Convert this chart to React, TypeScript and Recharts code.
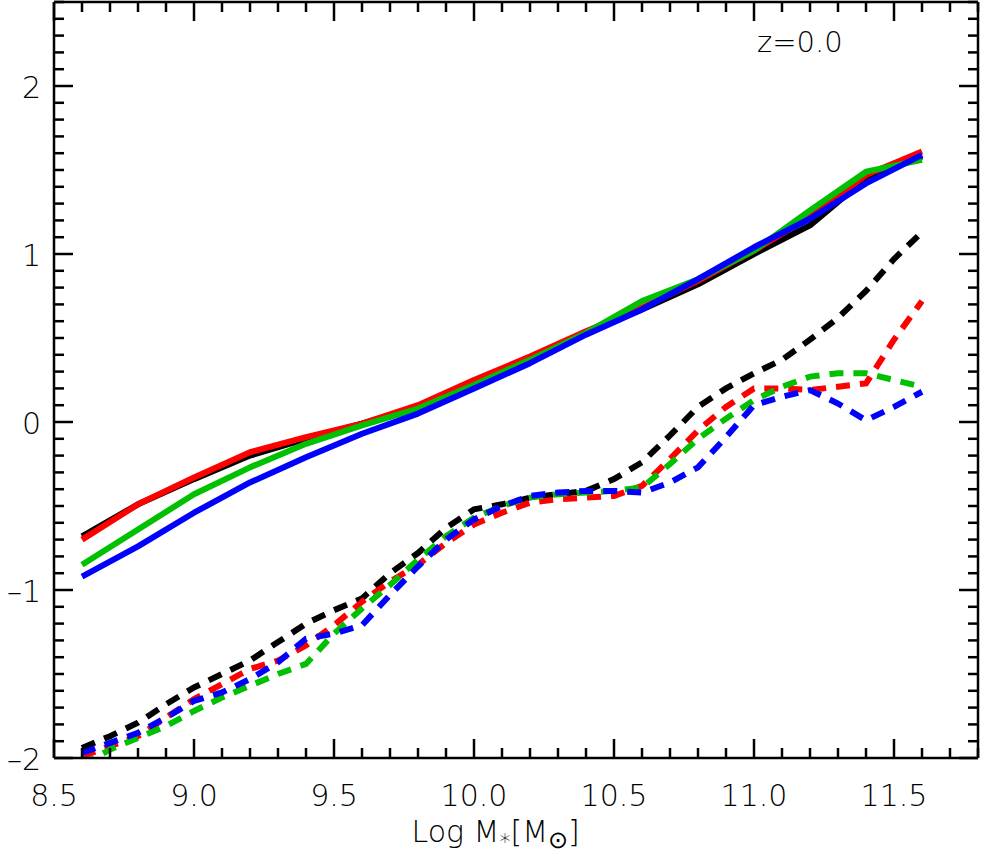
import React from 'react';
import { LineChart, Line, XAxis, YAxis, ReferenceDot } from 'recharts';

// ---- data ----
const solidMass = [8.6, 8.8, 9.0, 9.2, 9.4, 9.6, 9.8, 10.0, 10.2, 10.4, 10.6, 10.8, 11.0, 11.2, 11.4, 11.6];
const solidBlack = [-0.68, -0.49, -0.34, -0.20, -0.10, -0.01, 0.09, 0.24, 0.38, 0.53, 0.67, 0.82, 1.00, 1.17, 1.45, 1.58];
const solidRed = [-0.70, -0.49, -0.33, -0.18, -0.09, -0.01, 0.10, 0.25, 0.39, 0.54, 0.68, 0.84, 1.02, 1.22, 1.47, 1.61];
const solidGreen = [-0.85, -0.64, -0.43, -0.27, -0.13, -0.02, 0.08, 0.22, 0.37, 0.53, 0.72, 0.85, 1.02, 1.26, 1.49, 1.56];
const solidBlue = [-0.92, -0.74, -0.54, -0.36, -0.21, -0.07, 0.05, 0.20, 0.35, 0.52, 0.67, 0.85, 1.04, 1.21, 1.42, 1.59];

const dashMass = [8.6, 8.7, 8.8, 8.9, 9.0, 9.1, 9.2, 9.3, 9.4, 9.5, 9.6, 9.7, 9.8, 9.9, 10.0, 10.1, 10.2, 10.3, 10.4, 10.5, 10.6, 10.7, 10.8, 10.9, 11.0, 11.1, 11.2, 11.3, 11.4, 11.5, 11.6];
const dashBlack = [-1.94, -1.87, -1.79, -1.68, -1.58, -1.50, -1.42, -1.31, -1.20, -1.12, -1.05, -0.90, -0.78, -0.63, -0.52, -0.49, -0.45, -0.43, -0.41, -0.34, -0.24, -0.08, 0.09, 0.20, 0.29, 0.37, 0.49, 0.62, 0.78, 0.97, 1.13];
const dashRed = [-1.99, -1.93, -1.87, -1.76, -1.65, -1.56, -1.47, -1.42, -1.33, -1.21, -1.07, -0.95, -0.85, -0.72, -0.61, -0.54, -0.48, -0.46, -0.45, -0.44, -0.38, -0.22, -0.05, 0.09, 0.20, 0.20, 0.19, 0.21, 0.23, 0.49, 0.72];
const dashGreen = [-2.04, -1.95, -1.88, -1.81, -1.72, -1.64, -1.57, -1.50, -1.44, -1.26, -1.11, -0.97, -0.82, -0.68, -0.57, -0.50, -0.45, -0.43, -0.42, -0.41, -0.39, -0.25, -0.10, 0.02, 0.13, 0.21, 0.27, 0.29, 0.29, 0.25, 0.21];
const dashBlue = [-1.97, -1.91, -1.85, -1.76, -1.66, -1.61, -1.53, -1.43, -1.29, -1.26, -1.21, -1.03, -0.86, -0.70, -0.58, -0.50, -0.44, -0.42, -0.41, -0.41, -0.42, -0.36, -0.27, -0.09, 0.10, 0.15, 0.19, 0.11, 0.01, 0.09, 0.18];

// ---- axes ----
const xDomain = [8.5, 11.8];
const yDomain = [-2, 2.5];
const xMajorTicks = [8.5, 9.0, 9.5, 10.0, 10.5, 11.0, 11.5];
const yMajorTicks = [-2, -1, 0, 1, 2];
const xMinorTicks = Array.from({ length: 34 }, (_, i) => (85 + i) / 10);
const yMinorTicks = Array.from({ length: 46 }, (_, i) => (i - 20) / 10);
const xTitle = 'Log M';
const redshiftLabel = 'z=0.0';
const redshiftPos = { x: 11.164, y: 2.262 };

const solidData = solidMass.map((m, i) => ({ m, black: solidBlack[i], red: solidRed[i], green: solidGreen[i], blue: solidBlue[i] }));
const dashData = dashMass.map((m, i) => ({ m, black: dashBlack[i], red: dashRed[i], green: dashGreen[i], blue: dashBlue[i] }));

const FONT = "'DejaVu Sans', sans-serif";
const FW = 200;
const MAJOR = 19;
const MINOR = 10;
const TW = 2.5;

const near = (a: number, b: number) => Math.abs(a - b) < 1e-6;
const isXMajor = (v: number) => xMajorTicks.some((t) => near(t, v));
const isYMajor = (v: number) => yMajorTicks.some((t) => near(t, v));
const fmtY = (v: number) => (v < 0 ? '\u2013' + Math.abs(v) : String(v));

const BottomTick = (p: any) => {
  const v = p.payload.value;
  const major = isXMajor(v);
  return (
    <g>
      <line x1={p.x} x2={p.x} y1={p.y} y2={p.y - (major ? MAJOR : MINOR)} stroke="#000" strokeWidth={TW} />
      {major && (
        <text x={p.x} y={p.y + 48} textAnchor="middle" fontSize={30} fontFamily={FONT} fontWeight={FW} fill="#000">
          {v.toFixed(1)}
        </text>
      )}
    </g>
  );
};
const TopTick = (p: any) => {
  const major = isXMajor(p.payload.value);
  return <line x1={p.x} x2={p.x} y1={p.y} y2={p.y + (major ? MAJOR : MINOR)} stroke="#000" strokeWidth={TW} />;
};
const LeftTick = (p: any) => {
  const v = p.payload.value;
  const major = isYMajor(v);
  return (
    <g>
      <line x1={p.x} x2={p.x + (major ? MAJOR : MINOR)} y1={p.y} y2={p.y} stroke="#000" strokeWidth={TW} />
      {major && (
        <text x={p.x - 13} y={p.y + 12} textAnchor="end" fontSize={30} fontFamily={FONT} fontWeight={FW} fill="#000">
          {fmtY(Math.round(v))}
        </text>
      )}
    </g>
  );
};
const RightTick = (p: any) => {
  const major = isYMajor(p.payload.value);
  return <line x1={p.x} x2={p.x - (major ? MAJOR : MINOR)} y1={p.y} y2={p.y} stroke="#000" strokeWidth={TW} />;
};

const XTitle = (p: any) => {
  const vb = p.viewBox || { x: 54, y: 758, width: 924, height: 98 };
  return (
    <text x={vb.x + vb.width * 0.478} y={vb.y + 84} textAnchor="middle" fontSize={30} fontFamily={FONT} fontWeight={FW} fill="#000">
      {xTitle}
      <tspan fontSize={22} dy={7}>*</tspan>
      <tspan dy={-7}>[M</tspan>
      <tspan fontSize={24} dy={6}>{'\u2299'}</tspan>
      <tspan dy={-6}>]</tspan>
    </text>
  );
};

const axisLine = { stroke: '#000', strokeWidth: TW };

export default function App() {
  return (
    <div style={{ position: 'absolute', left: 0, top: 0, background: '#fff' }}>
      <LineChart width={981} height={856} margin={{ top: 1, right: 2, left: 0, bottom: 0 }}>
        <XAxis
          xAxisId="bottom"
          type="number"
          dataKey="m"
          domain={xDomain}
          allowDataOverflow
          ticks={xMinorTicks}
          interval={0}
          tickSize={0}
          tickMargin={0}
          tickLine={false}
          axisLine={axisLine}
          tick={BottomTick}
          height={98}
          label={{ content: XTitle }}
        />
        <XAxis
          xAxisId="top"
          orientation="top"
          type="number"
          dataKey="m"
          domain={xDomain}
          allowDataOverflow
          ticks={xMinorTicks}
          interval={0}
          tickSize={0}
          tickMargin={0}
          tickLine={false}
          axisLine={axisLine}
          tick={TopTick}
          height={1}
        />
        <YAxis
          yAxisId="left"
          type="number"
          domain={yDomain}
          allowDataOverflow
          ticks={yMinorTicks}
          interval={0}
          tickSize={0}
          tickMargin={0}
          tickLine={false}
          axisLine={axisLine}
          tick={LeftTick}
          width={54}
        />
        <YAxis
          yAxisId="right"
          orientation="right"
          type="number"
          domain={yDomain}
          allowDataOverflow
          ticks={yMinorTicks}
          interval={0}
          tickSize={0}
          tickMargin={0}
          tickLine={false}
          axisLine={axisLine}
          tick={RightTick}
          width={1}
        />
        <Line xAxisId="bottom" yAxisId="left" data={solidData} dataKey="black" stroke="#000000" strokeWidth={6} dot={false} isAnimationActive={false} strokeLinejoin="round" />
        <Line xAxisId="bottom" yAxisId="left" data={solidData} dataKey="red" stroke="#ff0000" strokeWidth={6} dot={false} isAnimationActive={false} strokeLinejoin="round" />
        <Line xAxisId="bottom" yAxisId="left" data={solidData} dataKey="green" stroke="#00c000" strokeWidth={6} dot={false} isAnimationActive={false} strokeLinejoin="round" />
        <Line xAxisId="bottom" yAxisId="left" data={solidData} dataKey="blue" stroke="#0000ff" strokeWidth={6} dot={false} isAnimationActive={false} strokeLinejoin="round" />
        <Line xAxisId="bottom" yAxisId="left" data={dashData} dataKey="black" stroke="#000000" strokeWidth={6} strokeDasharray="14 10" dot={false} isAnimationActive={false} />
        <Line xAxisId="bottom" yAxisId="left" data={dashData} dataKey="red" stroke="#ff0000" strokeWidth={6} strokeDasharray="14 10" dot={false} isAnimationActive={false} />
        <Line xAxisId="bottom" yAxisId="left" data={dashData} dataKey="green" stroke="#00c000" strokeWidth={6} strokeDasharray="14 10" dot={false} isAnimationActive={false} />
        <Line xAxisId="bottom" yAxisId="left" data={dashData} dataKey="blue" stroke="#0000ff" strokeWidth={6} strokeDasharray="14 10" dot={false} isAnimationActive={false} />
        <ReferenceDot
          xAxisId="bottom"
          yAxisId="left"
          x={redshiftPos.x}
          y={redshiftPos.y}
          r={0}
          fill="none"
          stroke="none"
          label={{ value: redshiftLabel, position: 'center', fontSize: 29, fill: '#000', fontFamily: FONT, fontWeight: FW }}
        />
      </LineChart>
    </div>
  );
}
